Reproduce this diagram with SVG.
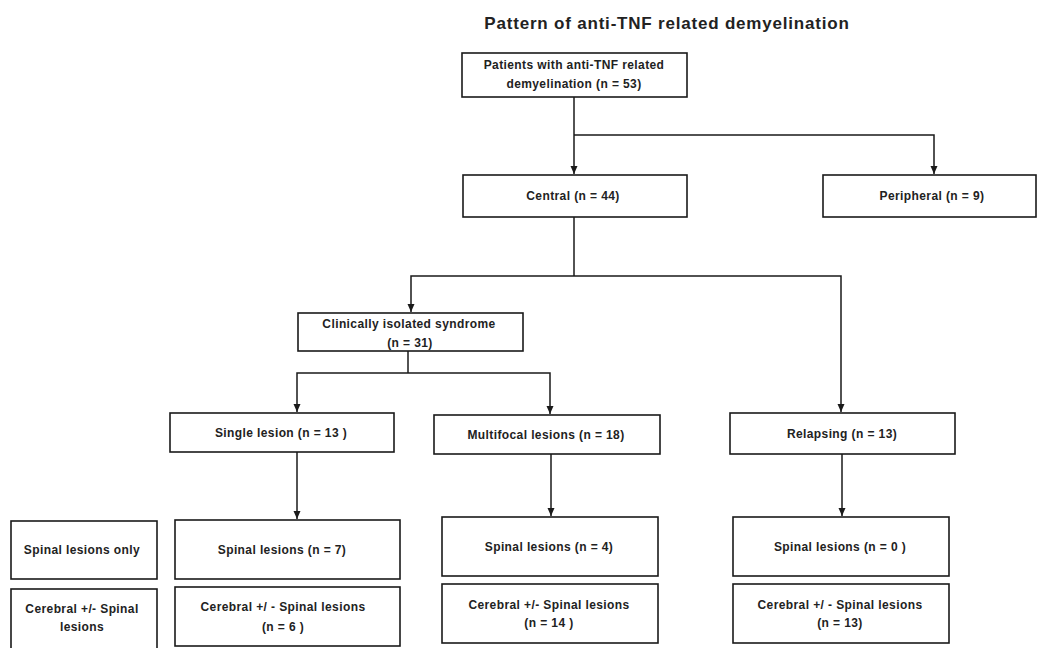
<svg xmlns="http://www.w3.org/2000/svg" width="1037" height="648" viewBox="0 0 1037 648">
<style>
.box{fill:#fff;stroke:#1a1a1a;stroke-width:1.6}
.t{font-family:"Liberation Sans",Arial,sans-serif;font-weight:bold;font-size:12px;letter-spacing:0.4px;fill:#222;text-anchor:middle}
.title{font-family:"Liberation Sans",Arial,sans-serif;font-weight:bold;font-size:17px;letter-spacing:0.8px;fill:#222;text-anchor:middle}
.c{fill:none;stroke:#1a1a1a;stroke-width:1.5}
</style>
<defs>
<marker id="ah" markerUnits="userSpaceOnUse" markerWidth="8" markerHeight="8" viewBox="0 0 8 8" refX="8" refY="4" orient="auto">
<path d="M0,0.5 L8,4 L0,7.5 z" fill="#1a1a1a"/>
</marker>
</defs>
<rect width="1037" height="648" fill="#fff"/>
<text class="title" x="667" y="29">Pattern of anti-TNF related demyelination</text>

<g id="connectors">
<path class="c" d="M574,97 V174" marker-end="url(#ah)"/>
<path class="c" d="M574,135 H934 V174" marker-end="url(#ah)"/>
<path class="c" d="M574,217 V276"/>
<path class="c" d="M574,276 H411 V312" marker-end="url(#ah)"/>
<path class="c" d="M574,276 H841 V412" marker-end="url(#ah)"/>
<path class="c" d="M408,351 V373"/>
<path class="c" d="M408,373 H297 V412" marker-end="url(#ah)"/>
<path class="c" d="M408,373 H550 V414" marker-end="url(#ah)"/>
<path class="c" d="M297,452 V519" marker-end="url(#ah)"/>
<path class="c" d="M551,454 V516" marker-end="url(#ah)"/>
<path class="c" d="M842,454 V516" marker-end="url(#ah)"/>
</g>

<g id="n-patients">
<rect class="box" x="462" y="53" width="225" height="44"/>
<text class="t" x="574" y="69">Patients with anti-TNF related</text>
<text class="t" x="574" y="88">demyelination (n = 53)</text>
</g>
<g id="n-central">
<rect class="box" x="463" y="175" width="224" height="42"/>
<text class="t" x="573" y="200">Central  (n = 44)</text>
</g>
<g id="n-peripheral">
<rect class="box" x="823" y="175" width="213" height="42"/>
<text class="t" x="932" y="200">Peripheral  (n = 9)</text>
</g>
<g id="n-cis">
<rect class="box" x="298" y="313" width="225" height="38"/>
<text class="t" x="409" y="328">Clinically isolated syndrome</text>
<text class="t" x="410" y="347">(n = 31)</text>
</g>
<g id="n-single">
<rect class="box" x="170" y="413" width="224" height="39"/>
<text class="t" x="281" y="437">Single lesion (n = 13 )</text>
</g>
<g id="n-multifocal">
<rect class="box" x="434" y="415" width="226" height="39"/>
<text class="t" x="546" y="439">Multifocal lesions (n = 18)</text>
</g>
<g id="n-relapsing">
<rect class="box" x="730" y="413" width="225" height="41"/>
<text class="t" x="842" y="438">Relapsing (n = 13)</text>
</g>
<g id="n-legend-spinal">
<rect class="box" x="11" y="521" width="146" height="58"/>
<text class="t" x="82" y="554">Spinal lesions only</text>
</g>
<g id="n-legend-cerebral">
<rect class="box" x="11" y="589" width="146" height="60"/>
<text class="t" x="82" y="613">Cerebral +/- Spinal</text>
<text class="t" x="82" y="631">lesions</text>
</g>
<g id="n-single-spinal">
<rect class="box" x="175" y="520" width="225" height="59"/>
<text class="t" x="282" y="554">Spinal lesions (n = 7)</text>
</g>
<g id="n-single-cerebral">
<rect class="box" x="175" y="587" width="225" height="59"/>
<text class="t" x="283" y="611">Cerebral +/ - Spinal lesions</text>
<text class="t" x="283" y="631">(n = 6 )</text>
</g>
<g id="n-multi-spinal">
<rect class="box" x="442" y="517" width="216" height="59"/>
<text class="t" x="549" y="551">Spinal lesions (n = 4)</text>
</g>
<g id="n-multi-cerebral">
<rect class="box" x="442" y="584" width="216" height="59"/>
<text class="t" x="549" y="609">Cerebral +/- Spinal lesions</text>
<text class="t" x="549" y="627">(n = 14 )</text>
</g>
<g id="n-relapse-spinal">
<rect class="box" x="733" y="517" width="216" height="59"/>
<text class="t" x="840" y="551">Spinal lesions (n = 0 )</text>
</g>
<g id="n-relapse-cerebral">
<rect class="box" x="733" y="584" width="216" height="59"/>
<text class="t" x="840" y="609">Cerebral +/ - Spinal lesions</text>
<text class="t" x="840" y="627">(n = 13)</text>
</g>
</svg>
